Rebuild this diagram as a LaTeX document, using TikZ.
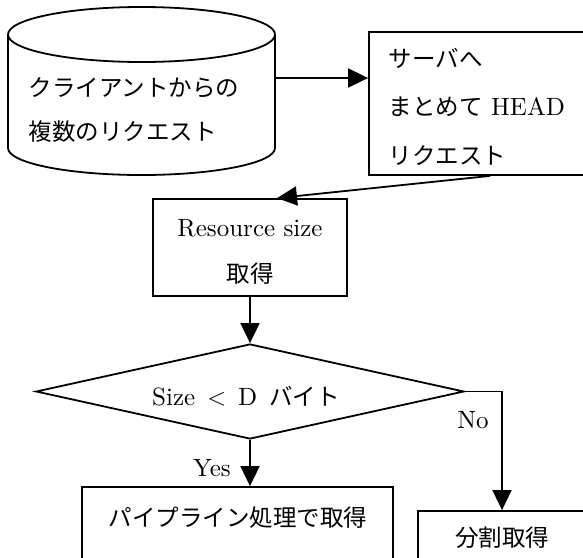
\documentclass[tikz,border=0pt]{standalone}
\usepackage{fontspec}
\setmainfont{lmroman10-regular}[Extension=.otf]
\newfontfamily\jp[Scale=0.94]{Noto Sans CJK JP}
\usetikzlibrary{arrows.meta,shapes.geometric}
\begin{document}
\begin{tikzpicture}[x=1pt,y=-1pt,
  line width=1.8pt,
  box/.style={draw, rectangle, inner sep=0pt},
  lbl/.style={inner sep=0pt},
  arr/.style={-{Triangle[length=20pt,width=19pt]}},
]
\useasboundingbox (0,0) rectangle (583,557);
\clip (0,0) rectangle (583,557);
\fill[white] (0,0) rectangle (583,557);

% cylinder
\node[inner sep=0pt, minimum width=267pt, minimum height=168pt] (cyl) at (141.5,91) {};
\draw (8,34.5) -- (8,148) arc[start angle=180,end angle=360,x radius=133.5pt,y radius=27pt] -- (275,34.5);
\draw (141.5,34.5) ellipse [x radius=133.5pt, y radius=27.5pt];
\node[lbl, align=left, anchor=west, font=\fontsize{25}{44}\selectfont\jp] (cylt) at (28,110) {クライアントからの\\複数のリクエスト};

% server box
\node[box, minimum width=242pt, minimum height=143pt] (b2) at (490,103.5) {};
\node[lbl, align=left, anchor=west, font=\fontsize{25}{48.5}\selectfont] (b2t) at (388,106.5) {{\jp サーバへ}\\{\jp まとめて} HEAD\\{\jp リクエスト}};

\coordinate (a1) at (0,78);
\draw[arr] (cyl.east |- a1) -- (b2.west |- a1);

% resource box
\node[box, minimum width=194pt, minimum height=97pt] (res) at (250,247.5) {};
\node[lbl, align=center, font=\fontsize{25}{46}\selectfont] (rest) at (250,252) {Resource size\\{\jp 取得}};
\draw[arr] (b2.south) -- ([xshift=27pt]res.north);

% decision
\node[draw, diamond, inner sep=0pt, minimum width=428pt, minimum height=95pt] (dia) at (250,391.5) {};
\node[lbl, font=\fontsize{25}{30}\selectfont] (diat) at (246,396) {Size\hspace{12pt}$<$\hspace{12pt}D\hspace{12pt}{\jp バイト}};
\draw[arr] (res.south) -- (dia.north);

% yes branch
\node[box, minimum width=311pt, minimum height=110pt] (pipe) at (237.5,542) {};
\node[lbl, font=\fontsize{25}{30}\selectfont\jp] (pipet) at (238,518) {パイプライン処理で取得};
\draw[arr] (dia.south) -- (dia.south |- pipe.north);
\node[lbl, font=\fontsize{25}{30}\selectfont] (yes) at (212,468) {Yes};

% no branch
\node[box, minimum width=168pt, minimum height=110pt] (nb) at (502,566) {};
\node[lbl, font=\fontsize{25}{30}\selectfont\jp] (nbt) at (502,538) {分割取得};
\draw[arr] (dia.east) -| (nb.north);
\node[lbl, font=\fontsize{25}{30}\selectfont] (no) at (473,420) {No};
\end{tikzpicture}
\end{document}
